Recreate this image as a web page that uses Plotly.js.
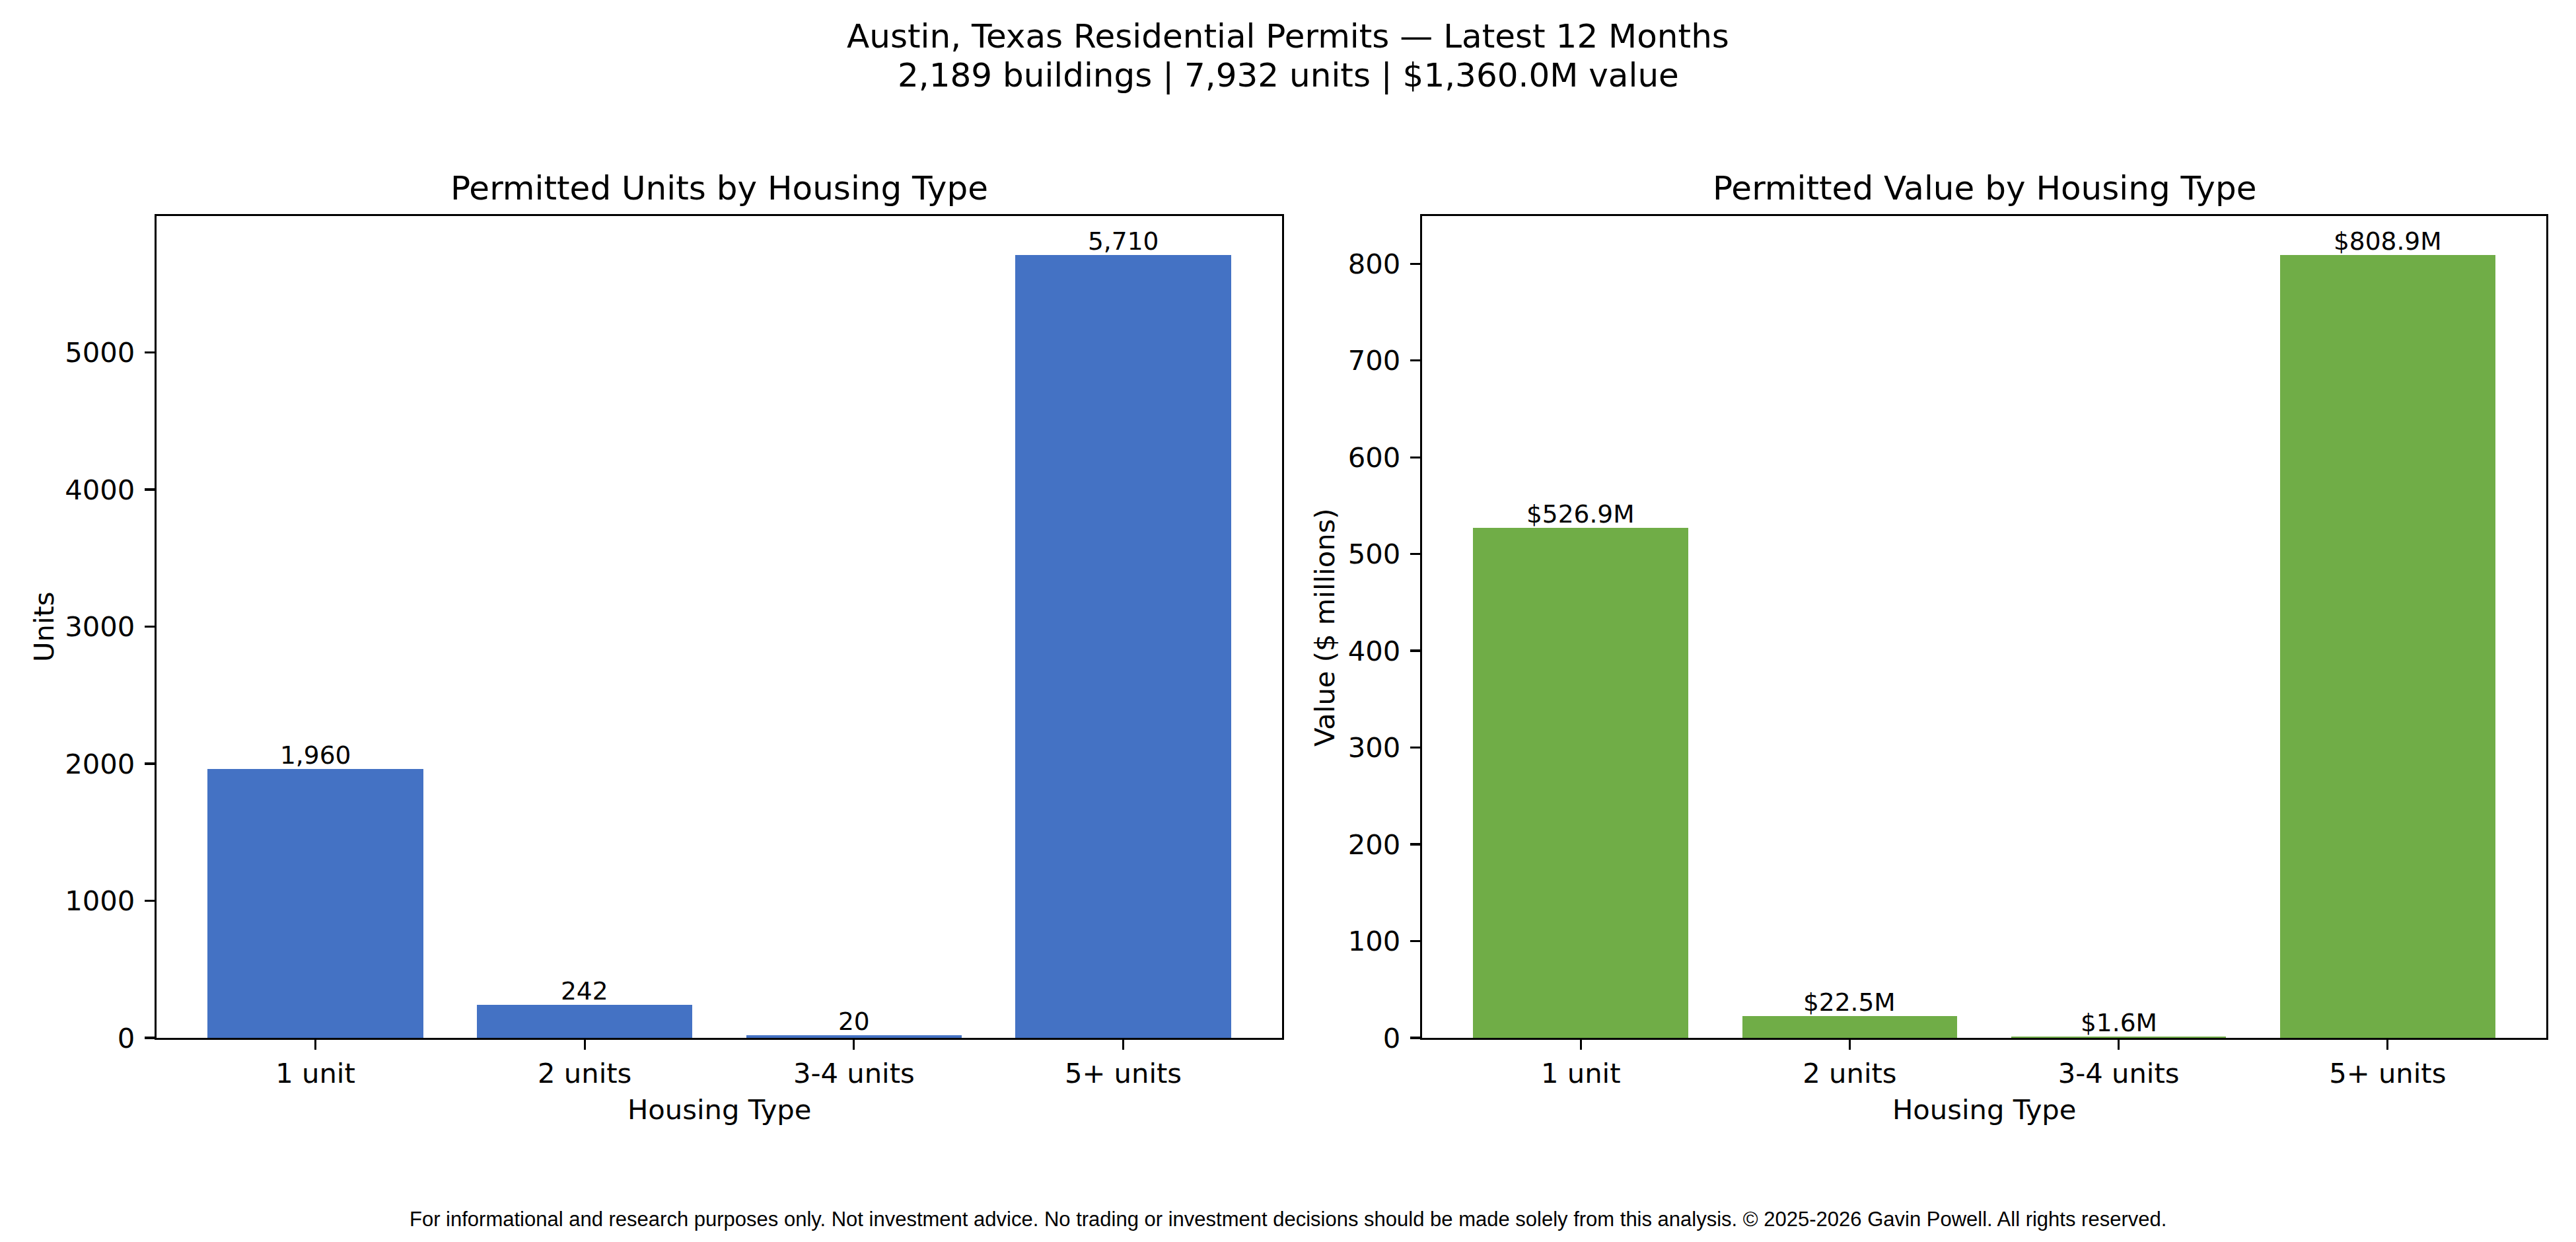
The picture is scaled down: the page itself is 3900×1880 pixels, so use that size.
<!DOCTYPE html>
<html>
<head>
<meta charset="utf-8">
<script src="https://cdn.plot.ly/plotly-3.0.1.min.js"></script>
<style>
  html, body { margin: 0; padding: 0; background: #ffffff; }
  #chart { width: 3900px; height: 1880px; }
</style>
</head>
<body>
<div id="chart"></div>
<script>
// Austin, TX residential permits, latest 12 months
const housingTypes = ['1 unit', '2 units', '3-4 units', '5+ units'];
const permittedUnits = [1960, 242, 20, 5710];
const permittedValueM = [526.9, 22.5, 1.6, 808.9];

const totalBuildings = 2189;
const totalUnits = 7932;
const totalValueM = 1360.0;

const BLUE = '#4472C4';
const GREEN = '#70AD47';
const FONT = 'DejaVu Sans, sans-serif';

// matplotlib-like autoscale: 5% headroom, bars from -0.4 to n-0.6
const yMaxUnits = Math.max(...permittedUnits) * 1.05;
const yMaxValue = Math.max(...permittedValueM) * 1.05;
const xPad = (housingTypes.length - 1 + 0.8) * 0.05;
const xRange = [-0.4 - xPad, housingTypes.length - 0.6 + xPad];

const fmtUnits = v => v.toLocaleString('en-US');
const fmtValue = v => '$' + v.toFixed(1) + 'M';

const traces = [
  {
    type: 'bar',
    x: housingTypes,
    y: permittedUnits,
    width: 0.8,
    marker: { color: BLUE, line: { width: 0 } },
    xaxis: 'x',
    yaxis: 'y',
    hoverinfo: 'x+y'
  },
  {
    type: 'bar',
    x: housingTypes,
    y: permittedValueM,
    width: 0.8,
    marker: { color: GREEN, line: { width: 0 } },
    xaxis: 'x2',
    yaxis: 'y2',
    hoverinfo: 'x+y'
  }
];

const axisCommon = {
  showline: true,
  mirror: true,
  linecolor: '#000000',
  linewidth: 3.3,
  showgrid: false,
  zeroline: false,
  ticks: 'outside',
  ticklen: 15,
  tickwidth: 3.3,
  tickcolor: '#000000',
  tickfont: { family: FONT, size: 41.7, color: '#000000' }
};

// value labels sitting on top of each bar
const barLabels = [];
housingTypes.forEach((cat, i) => {
  barLabels.push({
    xref: 'x', yref: 'y', x: cat, y: permittedUnits[i],
    text: fmtUnits(permittedUnits[i]), showarrow: false,
    xanchor: 'center', yanchor: 'bottom', yshift: -3,
    font: { family: FONT, size: 37.5, color: '#000000' }
  });
  barLabels.push({
    xref: 'x2', yref: 'y2', x: cat, y: permittedValueM[i],
    text: fmtValue(permittedValueM[i]), showarrow: false,
    xanchor: 'center', yanchor: 'bottom', yshift: -3,
    font: { family: FONT, size: 37.5, color: '#000000' }
  });
});

const textAnn = (text, x, y, size, extra = {}) => Object.assign({
  xref: 'paper', yref: 'paper', x: x / 3900, y: 1 - y / 1880,
  text: text, showarrow: false, xanchor: 'center', yanchor: 'middle',
  font: { family: FONT, size: size, color: '#000000' }
}, extra);

const layout = {
  width: 3900,
  height: 1880,
  margin: { l: 0, r: 0, t: 0, b: 0 },
  paper_bgcolor: '#ffffff',
  plot_bgcolor: '#ffffff',
  showlegend: false,
  bargap: 0,
  xaxis: Object.assign({}, axisCommon, {
    domain: [237 / 3900, 1941 / 3900],
    anchor: 'y',
    type: 'category',
    range: xRange,
    ticklabelstandoff: 0
  }),
  yaxis: Object.assign({}, axisCommon, {
    domain: [1 - 1571 / 1880, 1 - 327 / 1880],
    anchor: 'x',
    range: [0, yMaxUnits],
    tickmode: 'linear',
    tick0: 0,
    dtick: 1000,
    ticklabelstandoff: 6
  }),
  xaxis2: Object.assign({}, axisCommon, {
    domain: [2153 / 3900, 3855 / 3900],
    anchor: 'y2',
    type: 'category',
    range: xRange,
    ticklabelstandoff: 0
  }),
  yaxis2: Object.assign({}, axisCommon, {
    domain: [1 - 1571 / 1880, 1 - 327 / 1880],
    anchor: 'x2',
    range: [0, yMaxValue],
    tickmode: 'linear',
    tick0: 0,
    dtick: 100,
    ticklabelstandoff: 6
  }),
  annotations: [
    textAnn('Austin, Texas Residential Permits \u2014 Latest 12 Months', 1950, 55, 50),
    textAnn(fmtUnits(totalBuildings) + ' buildings | ' + fmtUnits(totalUnits) + ' units | $' +
            totalValueM.toLocaleString('en-US', { minimumFractionDigits: 1 }) + 'M value', 1950, 114, 50),
    textAnn('Permitted Units by Housing Type', 1089, 285, 50),
    textAnn('Permitted Value by Housing Type', 3004, 285, 50),
    textAnn('Housing Type', 1089, 1679, 41.7),
    textAnn('Housing Type', 3004, 1679, 41.7),
    textAnn('Units', 66, 949, 41.7, { textangle: -90 }),
    textAnn('Value ($ millions)', 2005, 949, 41.7, { textangle: -90 }),
    textAnn('For informational and research purposes only. Not investment advice. No trading or investment decisions should be made solely from this analysis. \u00a9 2025-2026 Gavin Powell. All rights reserved.',
            1950, 1845, 31, { font: { family: 'Liberation Sans, Arial, sans-serif', size: 31, color: '#000000' } })
  ].concat(barLabels)
};

Plotly.newPlot('chart', traces, layout, { displayModeBar: false, staticPlot: true });
</script>
</body>
</html>
